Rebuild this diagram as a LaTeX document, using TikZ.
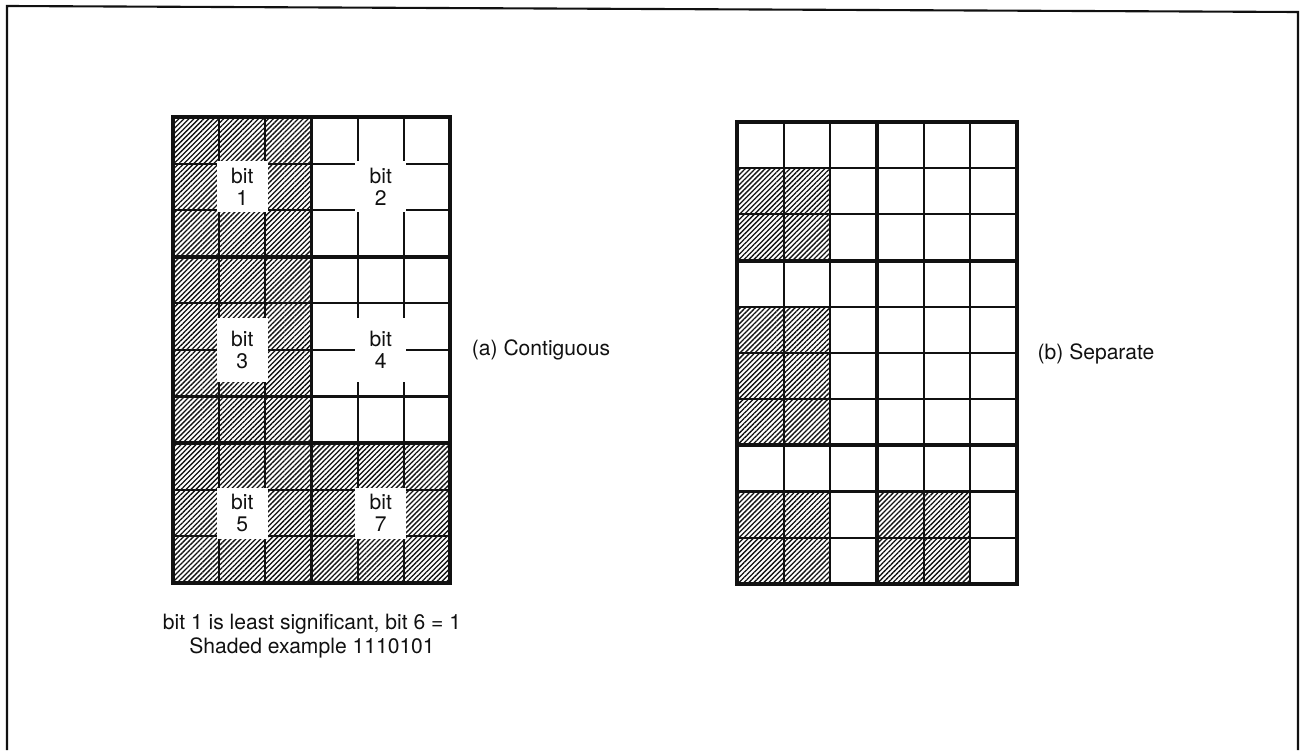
\documentclass[tikz,border=0pt]{standalone}
\usepackage{fontspec}
\setmainfont{TeX Gyre Heros}
\usetikzlibrary{patterns.meta}
\definecolor{Ink}{HTML}{111111}

\begin{document}
\begin{tikzpicture}[x=0.02cm,y=-0.02cm,
    every node/.style={font=\fontsize{12}{12.5}\selectfont,text=Ink},
    thinline/.style={Ink,line width=1.2pt},
    thickline/.style={Ink,line width=2.2pt},
    hatch/.style={pattern={Lines[angle=45,distance=2pt,line width=0.75pt]},pattern color=Ink},
    bitlabel/.style={fill=white,inner sep=0pt,align=center,minimum width=1.02cm,minimum height=1.02cm}]
  \useasboundingbox (0,0) rectangle (1300,750);
  % page frame
  \draw[Ink,line width=1.2pt] (7,750) -- (7,6) -- (1298,12) -- (1298,750);

  % (a) contiguous
  \begin{scope}[shift={(173,117)},x=0.9234cm,y=-0.932cm]
    \fill[hatch] (0,0) rectangle (3,7);
    \fill[hatch] (0,7) rectangle (6,10);
    \foreach \c in {1,2,4,5} \draw[thinline] (\c,0) -- (\c,10);
    \foreach \r in {1,2,4,5,6,8,9} \draw[thinline] (0,\r) -- (6,\r);
    \draw[thickline] (3,0) -- (3,10) (0,3) -- (6,3) (0,7) -- (6,7);
    \draw[thickline] (0,0) rectangle (6,10);
    \node[bitlabel] (bit1) at (1.5,1.5) {bit\\1};
    \node[bitlabel] (bit2) at (4.5,1.5) {bit\\2};
    \node[bitlabel,minimum height=1.27cm] (bit3) at (1.5,5) {bit\\3};
    \node[bitlabel,minimum height=1.27cm] (bit4) at (4.5,5) {bit\\4};
    \node[bitlabel] (bit5) at (1.5,8.5) {bit\\5};
    \node[bitlabel] (bit7) at (4.5,8.5) {bit\\7};
  \end{scope}
  \node (capa) at (541,350) {(a) Contiguous};
  \node[align=center,font=\fontsize{12}{14}\selectfont] (note) at (312,636)
    {bit 1 is least significant, bit 6 = 1\\Shaded example 1110101};

  % (b) separate
  \begin{scope}[shift={(737,122)},x=0.9334cm,y=-0.924cm]
    \foreach \r in {1,2,4,5,6,8,9} \fill[hatch] (0,\r) rectangle (2,\r+1);
    \fill[hatch] (3,8) rectangle (5,10);
    \foreach \c in {1,2,4,5} \draw[thinline] (\c,0) -- (\c,10);
    \foreach \r in {1,2,4,5,6,8,9} \draw[thinline] (0,\r) -- (6,\r);
    \draw[thickline] (3,0) -- (3,10) (0,3) -- (6,3) (0,7) -- (6,7);
    \draw[thickline] (0,0) rectangle (6,10);
  \end{scope}
  \node (capb) at (1096,354) {(b) Separate};
\end{tikzpicture}
\end{document}
